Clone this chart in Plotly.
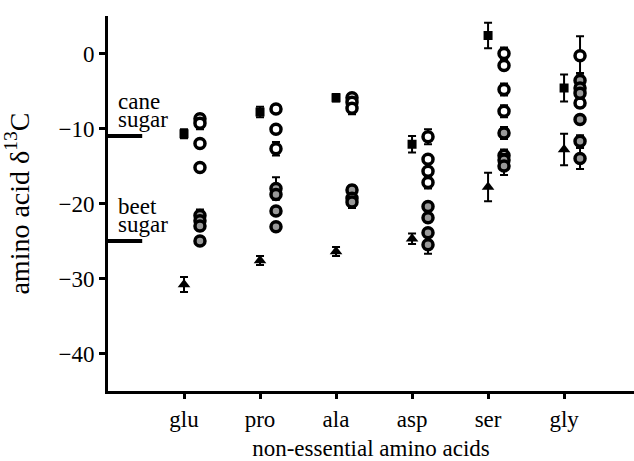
import plotly.graph_objects as go

categories = ["glu", "pro", "ala", "asp", "ser", "gly"]

square_vals = [-10.7, -7.8, -5.9, -12.1, 2.4, -4.6]
square_err = [0.6, 0.7, 0.5, 1.1, 1.7, 1.8]

triangle_vals = [-30.8, -27.6, -26.4, -24.7, -17.8, -12.8]
triangle_err = [1.0, 0.6, 0.6, 0.7, 1.9, 2.1]

white_vals = {
    "glu": [-8.7, -9.3, -12.0, -15.2],
    "pro": [-7.4, -10.1, -12.7],
    "ala": [-5.9, -6.5, -7.3],
    "asp": [-11.1, -14.1, -15.7, -17.2],
    "ser": [0.0, -1.6, -4.8, -7.7, -13.6],
    "gly": [-0.3, -6.6],
}
white_err = {
    "glu": [0.6, 0.8, 0.5, 0.4],
    "pro": [0.5, 0.4, 0.9],
    "ala": [0.5, 0.5, 0.8],
    "asp": [1.0, 0.5, 0.5, 0.8],
    "ser": [0.8, 0.6, 0.8, 0.8, 0.8],
    "gly": [2.6, 0.6],
}

gray_vals = {
    "glu": [-21.6, -22.3, -23.0, -25.0],
    "pro": [-18.0, -18.8, -21.0, -23.1],
    "ala": [-18.2, -19.3, -19.8],
    "asp": [-20.4, -21.9, -23.9, -25.5],
    "ser": [-10.6, -14.2, -15.0],
    "gly": [-3.6, -4.6, -5.3, -8.8, -11.7, -14.0],
}
gray_err = {
    "glu": [0.8, 0.5, 0.6, 0.5],
    "pro": [1.5, 0.6, 0.5, 0.5],
    "ala": [0.6, 0.5, 0.8],
    "asp": [0.5, 0.5, 0.5, 1.2],
    "ser": [0.8, 0.8, 1.2],
    "gly": [1.0, 0.6, 0.6, 0.6, 0.8, 1.4],
}

cane_sugar = -11.0
beet_sugar = -25.0

y_ticks = [0, -10, -20, -30, -40]

circle_offset = 0.21
FONT = "Liberation Serif, Times New Roman, serif"
FS = 23
gray_fill = "#999999"

fig = go.Figure()

pos = list(range(1, len(categories) + 1))


def circle_trace(vals, errs, fill):
    xs, ys, es = [], [], []
    for i, c in enumerate(categories):
        for v, e in zip(vals[c], errs[c]):
            xs.append(pos[i] + circle_offset)
            ys.append(v)
            es.append(e)
    return go.Scatter(
        x=xs, y=ys, mode="markers",
        error_y=dict(type="data", array=es, color="black", thickness=2, width=4),
        marker=dict(symbol="circle", size=10, color=fill,
                    line=dict(color="black", width=3.5)),
        showlegend=False, hoverinfo="y",
    )


fig.add_trace(circle_trace(white_vals, white_err, "white"))
fig.add_trace(circle_trace(gray_vals, gray_err, gray_fill))

fig.add_trace(go.Scatter(
    x=pos, y=square_vals, mode="markers",
    error_y=dict(type="data", array=square_err, color="black", thickness=2, width=4),
    marker=dict(symbol="square", size=9, color="black"),
    showlegend=False, hoverinfo="y",
))
fig.add_trace(go.Scatter(
    x=pos, y=triangle_vals, mode="markers",
    error_y=dict(type="data", array=triangle_err, color="black", thickness=2, width=4),
    marker=dict(symbol="triangle-up", size=11, color="black"),
    showlegend=False, hoverinfo="y",
))

# sugar reference lines with labels
for v, word in ((cane_sugar, "cane"), (beet_sugar, "beet")):
    fig.add_shape(type="line", xref="x", yref="y", x0=0, x1=0.45, y0=v, y1=v,
                  line=dict(color="black", width=4))
    fig.add_annotation(x=0.11, y=v, xref="x", yref="y", text=word,
                       showarrow=False, xanchor="left", yanchor="middle",
                       yshift=35, font=dict(family=FONT, size=FS, color="black"))
    fig.add_annotation(x=0.11, y=v, xref="x", yref="y", text="sugar",
                       showarrow=False, xanchor="left", yanchor="middle",
                       yshift=17, font=dict(family=FONT, size=FS, color="black"))

fig.update_layout(
    width=634, height=461,
    margin=dict(l=108, r=0, t=16, b=70),
    paper_bgcolor="white", plot_bgcolor="white",
    font=dict(family=FONT, size=FS, color="black"),
    showlegend=False,
)
fig.update_xaxes(
    range=[0, 6.92], tickmode="array", tickvals=pos, ticktext=categories,
    showgrid=False, zeroline=False, showline=True, linecolor="black", linewidth=3,
    ticks="outside", ticklen=5, tickwidth=3, tickcolor="black",
    automargin=False,
    title=dict(text="non-essential amino acids", standoff=16,
               font=dict(family=FONT, size=FS)),
    tickfont=dict(family=FONT, size=FS),
)
fig.update_yaxes(
    range=[-45, 5], tickmode="array", tickvals=y_ticks,
    ticktext=["0" if t == 0 else "\u2212" + str(abs(t)) for t in y_ticks],
    showgrid=False, zeroline=False, showline=True, linecolor="black", linewidth=3,
    ticks="outside", ticklen=6, tickwidth=3, tickcolor="black",
    automargin=False,
    title=dict(text="amino acid \u03b4<sup>13</sup>C", standoff=22,
               font=dict(family=FONT, size=28)),
    tickfont=dict(family=FONT, size=FS),
)

fig.write_html("out.html", config={"displayModeBar": False},
               post_script="document.body.style.margin='0';document.body.style.overflow='hidden';")
